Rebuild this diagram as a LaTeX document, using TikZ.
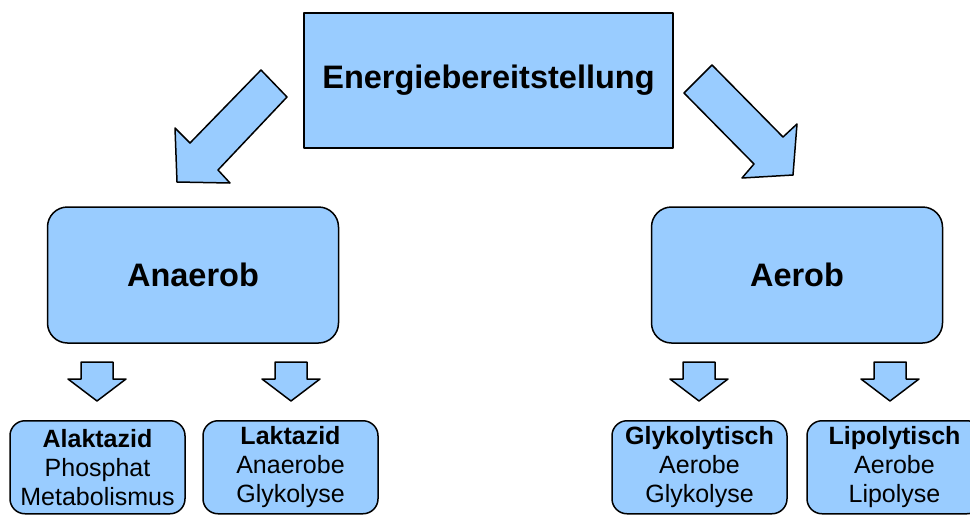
\documentclass[tikz,border=0pt]{standalone}
\usepackage{fontspec}
\setmainfont{Liberation Sans}
\definecolor{boxblue}{RGB}{153,204,255}
\tikzset{
  x=1pt, y=-1pt,
  outl/.style={draw=black, line width=1.5pt, fill=boxblue, line join=round},
  topbox/.style={outl, rectangle, minimum width=369pt, minimum height=135pt, inner sep=0pt,
    font=\fontsize{32.5}{38}\selectfont\bfseries},
  midbox/.style={outl, rectangle, rounded corners=20pt, minimum width=291pt, minimum height=136pt, inner sep=0pt,
    font=\fontsize{32.5}{38}\selectfont\bfseries},
  leafbox/.style={outl, rectangle, rounded corners=15pt, minimum width=175pt, minimum height=93pt, inner sep=0pt,
    align=center, font=\fontsize{25}{29}\selectfont},
}
\newcommand{\downarr}[1]{%
  \draw[outl] ($(#1)+(-16,362)$) -- ($(#1)+(16,362)$) -- ($(#1)+(16,379)$) -- ($(#1)+(29,379)$)
    -- ($(#1)+(0,401)$) -- ($(#1)+(-29,379)$) -- ($(#1)+(-16,379)$) -- cycle;}
\usetikzlibrary{calc}
\begin{document}
\begin{tikzpicture}
\useasboundingbox (0,0) rectangle (970,515);
\fill[white] (0,0) rectangle (970,515);

\node[topbox] (top) at (488.5,80.5) {Energiebereitstellung};
\node[midbox] (an) at (193,275) {Anaerob};
\node[midbox] (ae) at (797,275) {Aerob};

\node[leafbox, anchor=north] (b1) at (97.5,420) {\textbf{Alaktazid}\\Phosphat\\Metabolismus};
\node[leafbox, anchor=north] (b2) at (290.5,420) {\textbf{Laktazid}\\Anaerobe\\Glykolyse};
\node[leafbox, anchor=north] (b3) at (699.5,420) {\textbf{Glykolytisch}\\Aerobe\\Glykolyse};
\node[leafbox, anchor=north] (b4) at (894.5,420) {\textbf{Lipolytisch}\\Aerobe\\Lipolyse};

% big diagonal arrows
\draw[outl] (261,70) -- (190,143) -- (175,128) -- (177,182) -- (230,183) -- (218,170) -- (287,97) -- cycle;
\draw[outl] (712,65) -- (783,137) -- (797,124) -- (793,175) -- (742,178) -- (754,164) -- (684,93) -- cycle;

% small down arrows
\coordinate (c1) at (97,0);
\coordinate (c2) at (291,0);
\coordinate (c3) at (699,0);
\coordinate (c4) at (890,0);
\downarr{c1}
\downarr{c2}
\downarr{c3}
\downarr{c4}
\end{tikzpicture}
\end{document}
